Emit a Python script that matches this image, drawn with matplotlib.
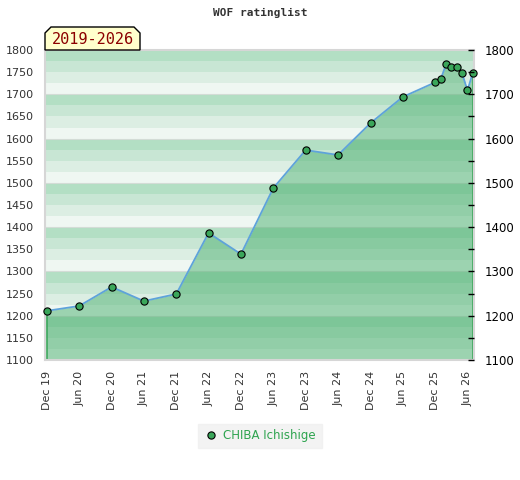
import matplotlib
matplotlib.use("Agg")
import matplotlib.pyplot as plt
from matplotlib.patches import Polygon
from matplotlib.lines import Line2D
import datetime as dt

# ---- data ----
months = ["2019-12", "2020-06", "2020-12", "2021-06", "2021-12", "2022-06",
          "2022-12", "2023-06", "2023-12", "2024-06", "2024-12", "2025-06",
          "2025-12", "2026-01", "2026-02", "2026-03", "2026-04", "2026-05",
          "2026-06", "2026-07"]
ratings = [1211, 1222, 1265, 1233, 1249, 1387, 1339, 1488, 1574, 1563,
           1635, 1694, 1727, 1734, 1768, 1762, 1762, 1748, 1709, 1748]
tick_months = ["2019-12", "2020-06", "2020-12", "2021-06", "2021-12", "2022-06",
               "2022-12", "2023-06", "2023-12", "2024-06", "2024-12", "2025-06",
               "2025-12", "2026-06"]
tick_labels = ["Dec 19", "Jun 20", "Dec 20", "Jun 21", "Dec 21", "Jun 22",
               "Dec 22", "Jun 23", "Dec 23", "Jun 24", "Dec 24", "Jun 25",
               "Dec 25", "Jun 26"]
player = "CHIBA Ichishige"
title = "WOF ratinglist"
period = "2019-2026"
y_min, y_max = 1100, 1800

def to_date(s):
    y, m = s.split("-")
    return dt.datetime(int(y), int(m), 1)

dates = [to_date(s) for s in months]
tdates = [to_date(s) for s in tick_months]

W, H = 520, 480
fig = plt.figure(figsize=(W / 100, H / 100), dpi=100)
ax = fig.add_axes([45 / W, 1 - 360 / H, (474 - 45) / W, (360 - 50) / H])

# striped background
band_colors = ["#eff7f2", "#dceee3", "#c8e6d4", "#b3dfc4"]
v = y_min
i = 0
while v < y_max:
    ax.axhspan(v, v + 25, color=band_colors[i % 4], lw=0, zorder=0)
    v += 25
    i += 1
for g in range(y_min + 100, y_max, 100):
    ax.axhline(g, color="#d3dcd6", lw=0.8, zorder=0.5)

# area
ax.fill_between(dates, ratings, y_min, color="#43ac69", alpha=0.48, lw=0, zorder=1)
ax.plot([dates[0], dates[0]], [y_min, ratings[0]], color="#3aa65a", lw=1.2, zorder=2)
ax.plot([dates[-1], dates[-1]], [y_min, ratings[-1]], color="#3aa65a", lw=1.2, zorder=2)
ax.plot(dates, ratings, color="#5ea3da", lw=1.3, zorder=3)
ax.plot(dates, ratings, ls="none", marker="o", ms=5.2, mfc="#3aa65a", mec="black",
        mew=0.8, zorder=4, clip_on=False)

ax.set_xlim(dt.datetime(2019, 11, 21), dt.datetime(2026, 7, 8))
ax.set_ylim(y_min, y_max)
ax.set_xticks(tdates)
ax.set_xticklabels(tick_labels, rotation=90, fontsize=8, color="#333333")
ax.set_yticks(range(y_min, y_max + 1, 50))
ax.tick_params(axis="y", length=0, pad=8, labelsize=8, labelcolor="#333333")
ax.tick_params(axis="x", length=0, pad=8)
for sp in ax.spines.values():
    sp.set_color("#d6d6d6")
    sp.set_linewidth(1.5)

ax2 = ax.twinx()
ax2.set_ylim(y_min, y_max)
ax2.set_yticks(range(y_min, y_max + 1, 100))
ax2.set_yticks(range(y_min + 50, y_max, 100), minor=True)
ax2.tick_params(axis="y", which="both", direction="in", length=4, width=1,
                color="black", labelsize=8.5, labelcolor="black", pad=8)
for sp in ax2.spines.values():
    sp.set_visible(False)

# title
fig.text(0.5, 1 - 13 / H, title, ha="center", va="center", fontsize=8,
         family="DejaVu Sans Mono", fontweight="bold", color="#333333")

# period label box with chamfered top corners
px = [(45, 50), (45, 33), (51, 27), (134, 27), (140, 33), (140, 50)]
poly = Polygon([(x / W, 1 - y / H) for x, y in px], closed=True,
               transform=fig.transFigure, facecolor="#ffffcc", edgecolor="black",
               lw=1, zorder=10)
fig.add_artist(poly)
fig.text(92.5 / W, 1 - 39.5 / H, period, ha="center", va="center", fontsize=11,
         family="DejaVu Sans Mono", color="#8b0000", zorder=11)

# legend
h = Line2D([], [], ls="none", marker="o", ms=5.2, mfc="#3aa65a", mec="black", mew=0.8)
leg = fig.legend([h], [player], loc="center", bbox_to_anchor=(0.5, 1 - 436 / H),
                 frameon=True, fontsize=8.5, handletextpad=0.4, borderpad=0.5,
                 handlelength=1.2, fancybox=False)
leg.get_frame().set_facecolor("#f0f0f0")
leg.get_frame().set_edgecolor("#f0f0f0")
for t in leg.get_texts():
    t.set_color("#2ea44f")

fig.savefig("out.png", dpi=100)
